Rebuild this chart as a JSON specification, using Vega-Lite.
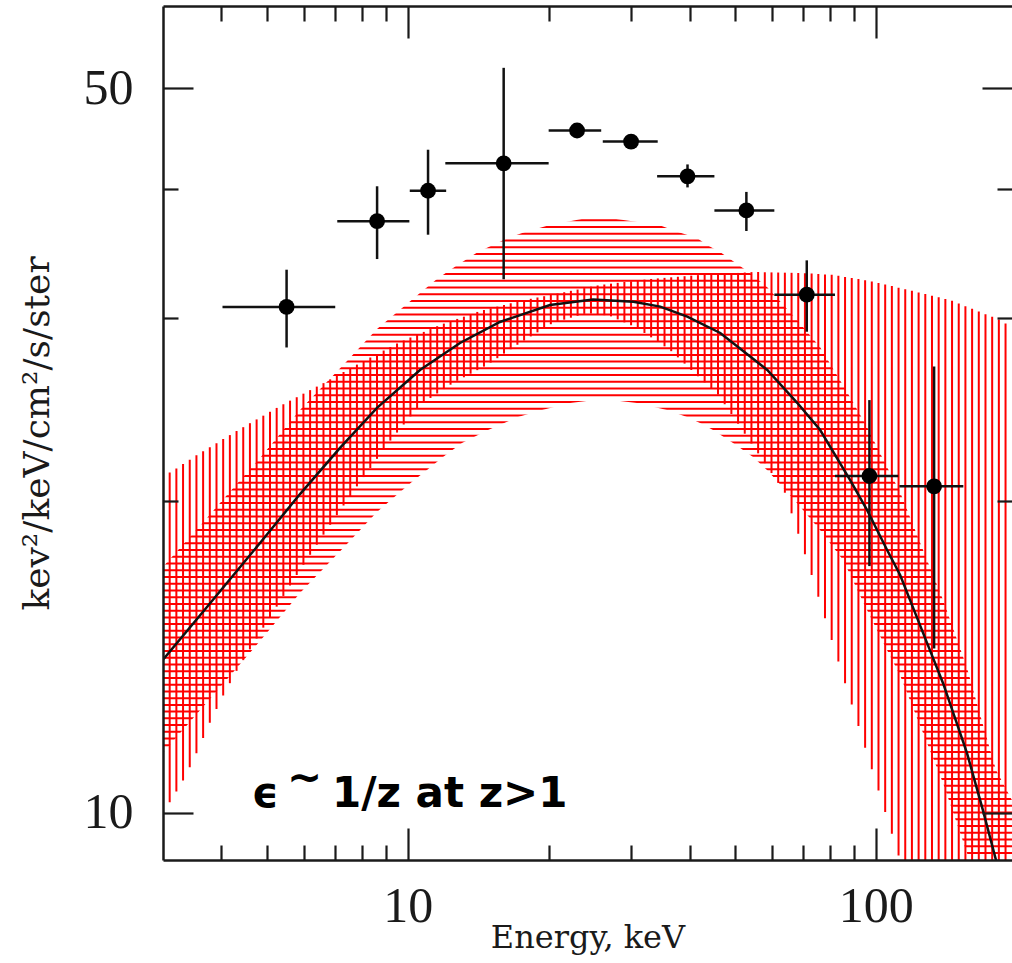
{
  "$schema": "https://vega.github.io/schema/vega-lite/v6.json",
  "width": 849,
  "height": 854,
  "autosize": {"type": "none"},
  "padding": {"left": 163, "top": 6, "right": 0, "bottom": 103},
  "background": "white",
  "view": {"stroke": null},
  "config": {
    "axis": {"grid": false, "domainColor": "#1a1a1a", "domainWidth": 2.5, "tickColor": "#1a1a1a", "tickWidth": 2.2, "labelColor": "#1a1a1a", "titleColor": "#1a1a1a", "labelFont": "Liberation Serif", "labelFlush": false, "labelOverlap": false}
  },
  "datasets": {
    "hl": [
      {"F": 9.1420}, {"F": 9.2797}, {"F": 9.4195}, {"F": 9.5614}, {"F": 9.7054}, {"F": 9.8516}, {"F": 10},
      {"F": 10.1506}, {"F": 10.3036}, {"F": 10.4588}, {"F": 10.6163}, {"F": 10.7762}, {"F": 10.9386}, {"F": 11.1033}, {"F": 11.2706},
      {"F": 11.4404}, {"F": 11.6127}, {"F": 11.7877}, {"F": 11.9652}, {"F": 12.1455}, {"F": 12.3284}, {"F": 12.5141}, {"F": 12.7026},
      {"F": 12.8940}, {"F": 13.0882}, {"F": 13.2854}, {"F": 13.4855}, {"F": 13.6887}, {"F": 13.8950}, {"F": 14.1043}, {"F": 14.3167},
      {"F": 14.5324}, {"F": 14.7513}, {"F": 14.9735}, {"F": 15.1991}, {"F": 15.4280}, {"F": 15.6604}, {"F": 15.8964}, {"F": 16.1358},
      {"F": 16.3789}, {"F": 16.6256}, {"F": 16.8761}, {"F": 17.1303}, {"F": 17.3883}, {"F": 17.6503}, {"F": 17.9161}, {"F": 18.1860},
      {"F": 18.4600}, {"F": 18.7380}, {"F": 19.0203}, {"F": 19.3070}, {"F": 19.5978}, {"F": 19.8930}, {"F": 20.1927}, {"F": 20.4969},
      {"F": 20.8057}, {"F": 21.1191}, {"F": 21.4372}, {"F": 21.7601}, {"F": 22.0879}, {"F": 22.4207}, {"F": 22.7584}, {"F": 23.1012},
      {"F": 23.4492}, {"F": 23.8025}, {"F": 24.1610}, {"F": 24.5250}, {"F": 24.8944}, {"F": 25.2694}, {"F": 25.6501}, {"F": 26.0365},
      {"F": 26.4287}, {"F": 26.8270}, {"F": 27.2311}, {"F": 27.6413}, {"F": 28.0577}, {"F": 28.4803}, {"F": 28.9094}, {"F": 29.3449},
      {"F": 29.7869}, {"F": 30.2356}, {"F": 30.6911}, {"F": 31.1534}, {"F": 31.6227}, {"F": 32.0990}, {"F": 32.5826}, {"F": 33.0734},
      {"F": 33.5716}, {"F": 34.0773}, {"F": 34.5907}, {"F": 35.1117}, {"F": 35.6406}, {"F": 36.1775}, {"F": 36.7225}, {"F": 37.2759}
    ],
    "maskUp": [
      {"E": 3.0, "U": 17.26}, {"E": 3.725, "U": 19.24}, {"E": 4.110, "U": 20.25}, {"E": 4.835, "U": 21.98}, {"E": 5.886, "U": 24.46},
      {"E": 7.417, "U": 27.27}, {"E": 8.596, "U": 29.28}, {"E": 10.621, "U": 31.72}, {"E": 11.548, "U": 32.72}, {"E": 12.679, "U": 33.68},
      {"E": 14.128, "U": 34.74}, {"E": 15.210, "U": 35.29}, {"E": 16.375, "U": 35.84}, {"E": 17.804, "U": 36.32}, {"E": 20.133, "U": 36.89},
      {"E": 24.153, "U": 37.47}, {"E": 25.496, "U": 37.72}, {"E": 26.913, "U": 37.47}, {"E": 34.418, "U": 36.89}, {"E": 37.790, "U": 36.32},
      {"E": 41.493, "U": 35.84}, {"E": 43.585, "U": 35.29}, {"E": 46.464, "U": 34.74}, {"E": 51.267, "U": 33.68}, {"E": 53.853, "U": 33.16},
      {"E": 58.550, "U": 32.14}, {"E": 67.861, "U": 29.87}, {"E": 75.990, "U": 28.13}, {"E": 88.074, "U": 25.17}, {"E": 95.757, "U": 23.55},
      {"E": 105.657, "U": 21.55}, {"E": 112.635, "U": 20.38}, {"E": 128.634, "U": 17.53}, {"E": 139.168, "U": 16.04}, {"E": 156.607, "U": 13.79},
      {"E": 169.432, "U": 12.15}, {"E": 180.621, "U": 10.99}, {"E": 195.4, "U": 10.28}
    ],
    "maskLow": [
      {"E": 3.0, "L": 11.42}, {"E": 3.725, "L": 12.78}, {"E": 4.110, "L": 13.45}, {"E": 4.835, "L": 14.64}, {"E": 5.886, "L": 16.29},
      {"E": 7.417, "L": 18.16}, {"E": 8.596, "L": 19.50}, {"E": 10.262, "L": 20.89}, {"E": 10.994, "L": 21.40}, {"E": 11.894, "L": 22.03},
      {"E": 13.059, "L": 22.73}, {"E": 14.841, "L": 23.39}, {"E": 17.201, "L": 24.08}, {"E": 19.357, "L": 24.46}, {"E": 22.215, "L": 24.84},
      {"E": 26.131, "L": 25.06}, {"E": 30.888, "L": 24.84}, {"E": 35.800, "L": 24.46}, {"E": 39.501, "L": 24.08}, {"E": 42.110, "L": 23.76},
      {"E": 44.891, "L": 23.39}, {"E": 49.532, "L": 22.73}, {"E": 54.654, "L": 22.03}, {"E": 58.550, "L": 21.40}, {"E": 67.861, "L": 19.89},
      {"E": 75.990, "L": 18.73}, {"E": 85.093, "L": 17.53}, {"E": 95.757, "L": 15.68}, {"E": 105.657, "L": 14.35}, {"E": 112.635, "L": 13.57},
      {"E": 128.634, "L": 11.67}, {"E": 139.168, "L": 10.68}, {"E": 156.607, "L": 9.14}, {"E": 162.893, "L": 8.61}, {"E": 195.4, "L": 6.59}
    ],
    "vl": [
      {"E": 3.1003, "lo": 10.23, "hi": 21.28}, {"E": 3.2040, "lo": 10.48, "hi": 21.48}, {"E": 3.3111, "lo": 10.74, "hi": 21.69},
      {"E": 3.4219, "lo": 11.06, "hi": 21.90}, {"E": 3.5363, "lo": 11.41, "hi": 22.12}, {"E": 3.6546, "lo": 11.80, "hi": 22.32},
      {"E": 3.7768, "lo": 12.21, "hi": 22.52}, {"E": 3.9031, "lo": 12.59, "hi": 22.72}, {"E": 4.0336, "lo": 12.97, "hi": 22.93},
      {"E": 4.1685, "lo": 13.33, "hi": 23.13}, {"E": 4.3079, "lo": 13.70, "hi": 23.34}, {"E": 4.4519, "lo": 14.03, "hi": 23.54},
      {"E": 4.6008, "lo": 14.37, "hi": 23.75}, {"E": 4.7547, "lo": 14.72, "hi": 23.95}, {"E": 4.9137, "lo": 15.08, "hi": 24.15},
      {"E": 5.0780, "lo": 15.44, "hi": 24.36}, {"E": 5.2478, "lo": 15.80, "hi": 24.57}, {"E": 5.4233, "lo": 16.18, "hi": 24.77},
      {"E": 5.6047, "lo": 16.56, "hi": 24.97}, {"E": 5.7921, "lo": 16.95, "hi": 25.16}, {"E": 5.9858, "lo": 17.34, "hi": 25.36},
      {"E": 6.1860, "lo": 17.73, "hi": 25.56}, {"E": 6.3928, "lo": 18.13, "hi": 25.76}, {"E": 6.6066, "lo": 18.54, "hi": 25.96},
      {"E": 6.8275, "lo": 18.95, "hi": 26.18}, {"E": 7.0559, "lo": 19.36, "hi": 26.39}, {"E": 7.2918, "lo": 19.78, "hi": 26.61},
      {"E": 7.5357, "lo": 20.20, "hi": 26.83}, {"E": 7.7877, "lo": 20.64, "hi": 27.05}, {"E": 8.0481, "lo": 21.07, "hi": 27.26},
      {"E": 8.3172, "lo": 21.50, "hi": 27.48}, {"E": 8.5954, "lo": 21.94, "hi": 27.69}, {"E": 8.8828, "lo": 22.39, "hi": 27.91},
      {"E": 9.1798, "lo": 22.85, "hi": 28.13}, {"E": 9.4868, "lo": 23.26, "hi": 28.35}, {"E": 9.8041, "lo": 23.68, "hi": 28.54},
      {"E": 10.132, "lo": 24.11, "hi": 28.73}, {"E": 10.471, "lo": 24.54, "hi": 28.91}, {"E": 10.821, "lo": 24.87, "hi": 29.09},
      {"E": 11.183, "lo": 25.12, "hi": 29.27}, {"E": 11.557, "lo": 25.37, "hi": 29.46}, {"E": 11.943, "lo": 25.62, "hi": 29.63},
      {"E": 12.343, "lo": 25.87, "hi": 29.78}, {"E": 12.755, "lo": 26.10, "hi": 29.94}, {"E": 13.182, "lo": 26.30, "hi": 30.09},
      {"E": 13.623, "lo": 26.51, "hi": 30.25}, {"E": 14.078, "lo": 26.72, "hi": 30.41}, {"E": 14.549, "lo": 26.93, "hi": 30.54},
      {"E": 15.036, "lo": 27.17, "hi": 30.65}, {"E": 15.538, "lo": 27.44, "hi": 30.77}, {"E": 16.058, "lo": 27.72, "hi": 30.88},
      {"E": 16.595, "lo": 27.99, "hi": 31.00}, {"E": 17.150, "lo": 28.27, "hi": 31.11}, {"E": 17.724, "lo": 28.54, "hi": 31.21},
      {"E": 18.316, "lo": 28.80, "hi": 31.31}, {"E": 18.929, "lo": 29.06, "hi": 31.40}, {"E": 19.562, "lo": 29.32, "hi": 31.49},
      {"E": 20.216, "lo": 29.59, "hi": 31.59}, {"E": 20.892, "lo": 29.76, "hi": 31.68}, {"E": 21.591, "lo": 29.89, "hi": 31.77},
      {"E": 22.313, "lo": 30.02, "hi": 31.87}, {"E": 23.059, "lo": 30.15, "hi": 31.96}, {"E": 23.830, "lo": 30.28, "hi": 32.06},
      {"E": 24.627, "lo": 30.30, "hi": 32.16}, {"E": 25.450, "lo": 30.24, "hi": 32.25}, {"E": 26.301, "lo": 30.19, "hi": 32.32},
      {"E": 27.181, "lo": 30.11, "hi": 32.38}, {"E": 28.090, "lo": 29.91, "hi": 32.44}, {"E": 29.029, "lo": 29.71, "hi": 32.50},
      {"E": 30.000, "lo": 29.52, "hi": 32.55}, {"E": 31.003, "lo": 29.31, "hi": 32.61}, {"E": 32.040, "lo": 29.02, "hi": 32.67},
      {"E": 33.111, "lo": 28.74, "hi": 32.72}, {"E": 34.219, "lo": 28.45, "hi": 32.76}, {"E": 35.363, "lo": 28.17, "hi": 32.80},
      {"E": 36.546, "lo": 27.87, "hi": 32.84}, {"E": 37.768, "lo": 27.49, "hi": 32.88}, {"E": 39.031, "lo": 27.11, "hi": 32.92},
      {"E": 40.336, "lo": 26.73, "hi": 32.96}, {"E": 41.685, "lo": 26.36, "hi": 33.00}, {"E": 43.079, "lo": 26.00, "hi": 33.03},
      {"E": 44.519, "lo": 25.67, "hi": 33.06}, {"E": 46.008, "lo": 25.31, "hi": 33.08}, {"E": 47.547, "lo": 24.77, "hi": 33.11},
      {"E": 49.137, "lo": 24.24, "hi": 33.14}, {"E": 50.780, "lo": 23.72, "hi": 33.16}, {"E": 52.478, "lo": 23.20, "hi": 33.19},
      {"E": 54.233, "lo": 22.70, "hi": 33.22}, {"E": 56.047, "lo": 22.21, "hi": 33.23}, {"E": 57.921, "lo": 21.73, "hi": 33.21},
      {"E": 59.858, "lo": 21.26, "hi": 33.20}, {"E": 61.860, "lo": 20.80, "hi": 33.19}, {"E": 63.928, "lo": 20.35, "hi": 33.18},
      {"E": 66.066, "lo": 19.44, "hi": 33.17}, {"E": 68.275, "lo": 18.58, "hi": 33.16}, {"E": 70.559, "lo": 17.75, "hi": 33.14},
      {"E": 72.918, "lo": 16.95, "hi": 33.11}, {"E": 75.357, "lo": 16.15, "hi": 33.08}, {"E": 77.877, "lo": 15.40, "hi": 33.05},
      {"E": 80.481, "lo": 14.67, "hi": 33.02}, {"E": 83.172, "lo": 13.99, "hi": 32.95}, {"E": 85.954, "lo": 13.33, "hi": 32.87},
      {"E": 88.828, "lo": 12.71, "hi": 32.79}, {"E": 91.798, "lo": 12.12, "hi": 32.71}, {"E": 94.868, "lo": 11.55, "hi": 32.63},
      {"E": 98.041, "lo": 11.01, "hi": 32.54}, {"E": 101.32, "lo": 10.50, "hi": 32.43}, {"E": 104.71, "lo": 10.01, "hi": 32.32},
      {"E": 108.21, "lo": 9.54, "hi": 32.21}, {"E": 111.83, "lo": 9.09, "hi": 32.09}, {"E": 115.57, "lo": 9.0, "hi": 31.98},
      {"E": 119.43, "lo": 9.0, "hi": 31.87}, {"E": 123.43, "lo": 9.0, "hi": 31.75}, {"E": 127.55, "lo": 9.0, "hi": 31.64},
      {"E": 131.82, "lo": 9.0, "hi": 31.53}, {"E": 136.23, "lo": 9.0, "hi": 31.42}, {"E": 140.78, "lo": 9.0, "hi": 31.30},
      {"E": 145.49, "lo": 9.0, "hi": 31.17}, {"E": 150.36, "lo": 9.0, "hi": 30.99}, {"E": 155.38, "lo": 9.0, "hi": 30.80},
      {"E": 160.58, "lo": 9.0, "hi": 30.62}, {"E": 165.95, "lo": 9.0, "hi": 30.44}, {"E": 171.50, "lo": 9.0, "hi": 30.26},
      {"E": 177.24, "lo": 9.0, "hi": 30.08}, {"E": 183.16, "lo": 9.0, "hi": 29.90}, {"E": 189.29, "lo": 9.0, "hi": 29.63}
    ],
    "curve": [
      {"E": 3.0, "F": 14.04}, {"E": 3.725, "F": 15.79}, {"E": 4.835, "F": 18.20}, {"E": 5.886, "F": 20.29}, {"E": 7.166, "F": 22.48},
      {"E": 8.596, "F": 24.57}, {"E": 10.621, "F": 26.73}, {"E": 12.931, "F": 28.38}, {"E": 15.74, "F": 29.74}, {"E": 20.133, "F": 30.88},
      {"E": 24.88, "F": 31.26}, {"E": 30.33, "F": 31.11}, {"E": 34.63, "F": 30.77}, {"E": 39.55, "F": 30.09}, {"E": 46.52, "F": 29.02},
      {"E": 58.62, "F": 26.73}, {"E": 67.92, "F": 24.85}, {"E": 76.05, "F": 23.39}, {"E": 88.14, "F": 20.93}, {"E": 95.8, "F": 19.58},
      {"E": 105.7, "F": 17.92}, {"E": 112.7, "F": 16.95}, {"E": 128.7, "F": 14.57}, {"E": 139.2, "F": 13.33}, {"E": 156.6, "F": 11.41},
      {"E": 169.4, "F": 10.05}, {"E": 180.7, "F": 8.99}
    ],
    "pts": [
      {"E": 5.51, "F": 30.75, "Elo": 4.02, "Ehi": 7.0, "Flo": 28.1, "Fhi": 33.4},
      {"E": 8.6, "F": 37.2, "Elo": 7.07, "Ehi": 10.08, "Flo": 34.2, "Fhi": 40.2},
      {"E": 11.05, "F": 39.8, "Elo": 10.1, "Ehi": 12.08, "Flo": 36.1, "Fhi": 43.6},
      {"E": 16.03, "F": 42.3, "Elo": 12.03, "Ehi": 20.0, "Flo": 32.7, "Fhi": 52.3},
      {"E": 23.0, "F": 45.5, "Elo": 20.0, "Ehi": 25.9, "Flo": 45.1, "Fhi": 45.9},
      {"E": 30.0, "F": 44.4, "Elo": 26.1, "Ehi": 34.2, "Flo": 44.0, "Fhi": 44.8},
      {"E": 39.6, "F": 41.1, "Elo": 34.1, "Ehi": 45.2, "Flo": 40.1, "Fhi": 42.2},
      {"E": 52.9, "F": 38.1, "Elo": 45.2, "Ehi": 60.7, "Flo": 36.4, "Fhi": 39.7},
      {"E": 71.2, "F": 31.6, "Elo": 60.7, "Ehi": 81.8, "Flo": 29.1, "Fhi": 34.1},
      {"E": 96.9, "F": 21.12, "Elo": 81.8, "Ehi": 111.7, "Flo": 17.29, "Fhi": 25.0},
      {"E": 133.2, "F": 20.64, "Elo": 112.3, "Ehi": 153.8, "Flo": 14.4, "Fhi": 26.93}
    ],
    "txt": [
      {"t": "ϵ", "E": 4.640, "F": 10.13},
      {"t": "~", "E": 5.521, "F": 10.47},
      {"t": "1/z at z>1", "E": 6.889, "F": 10.13}
    ]
  },
  "layer": [
    {
      "data": {"name": "hl"},
      "mark": {"type": "rule", "color": "#ff0000", "strokeWidth": 2},
      "encoding": {
        "y": {"field": "F", "type": "quantitative", "scale": {"type": "log", "domain": [9, 60], "nice": false}, "axis": null}
      }
    },
    {
      "data": {"name": "maskUp"},
      "mark": {"type": "area", "color": "#ffffff", "opacity": 1, "clip": true, "interpolate": "linear"},
      "encoding": {
        "x": {"field": "E", "type": "quantitative", "scale": {"type": "log", "domain": [3, 195.4], "nice": false},
          "axis": {"zindex": 1, "orient": "bottom", "values": [10, 100], "tickSize": -32, "domain": true, "labelFontSize": 50, "labelPadding": 53.5, "title": "Energy, keV", "titleFont": "DejaVu Serif", "titleFontSize": 32, "titleFontWeight": "normal", "titleY": 87, "titleBaseline": "alphabetic"}},
        "y": {"field": "U", "type": "quantitative", "scale": {"type": "log", "domain": [9, 60], "nice": false},
          "axis": {"zindex": 1, "orient": "left", "values": [10, 50], "tickSize": -30, "domain": true, "labelFontSize": 50, "labelPadding": 60, "labelBaseline": "middle", "title": "kev²/keV/cm²/s/ster", "titleFont": "DejaVu Serif", "titleFontSize": 36, "titleFontWeight": "normal", "titleAngle": 270, "titleX": -115, "titleY": 427, "titleAlign": "center", "titleBaseline": "alphabetic"}},
        "y2": {"datum": 61}
      }
    },
    {
      "data": {"name": "maskLow"},
      "mark": {"type": "area", "color": "#ffffff", "opacity": 1, "clip": true, "interpolate": "linear"},
      "encoding": {
        "x": {"field": "E", "type": "quantitative", "scale": {"type": "log", "domain": [3, 195.4], "nice": false},
          "axis": {"zindex": 1, "orient": "bottom", "values": [4, 5, 6, 7, 8, 9, 20, 30, 40, 50, 60, 70, 80, 90], "tickSize": -15, "domain": false, "labels": false, "title": null}},
        "y": {"field": "L", "type": "quantitative", "scale": {"type": "log", "domain": [9, 60], "nice": false},
          "axis": {"zindex": 1, "orient": "left", "values": [20, 30, 40], "tickSize": -15, "domain": false, "labels": false, "title": null}},
        "y2": {"datum": 5}
      }
    },
    {
      "data": {"name": "vl"},
      "mark": {"type": "rule", "color": "#ff0000", "strokeWidth": 2, "clip": true},
      "encoding": {
        "x": {"field": "E", "type": "quantitative", "scale": {"type": "log", "domain": [3, 195.4], "nice": false},
          "axis": {"zindex": 1, "orient": "top", "values": [10, 100], "tickSize": -32, "domain": true, "labels": false, "title": null}},
        "y": {"field": "lo", "type": "quantitative", "scale": {"type": "log", "domain": [9, 60], "nice": false},
          "axis": {"zindex": 1, "orient": "right", "values": [10, 50], "tickSize": -30, "domain": false, "labels": false, "title": null}},
        "y2": {"field": "hi"}
      }
    },
    {
      "data": {"name": "curve"},
      "mark": {"type": "line", "color": "#111111", "strokeWidth": 2.5, "clip": true},
      "encoding": {
        "x": {"field": "E", "type": "quantitative", "scale": {"type": "log", "domain": [3, 195.4], "nice": false},
          "axis": {"zindex": 1, "orient": "top", "values": [4, 5, 6, 7, 8, 9, 20, 30, 40, 50, 60, 70, 80, 90], "tickSize": -15, "domain": false, "labels": false, "title": null}},
        "y": {"field": "F", "type": "quantitative", "scale": {"type": "log", "domain": [9, 60], "nice": false},
          "axis": {"zindex": 1, "orient": "right", "values": [20, 30, 40], "tickSize": -15, "domain": false, "labels": false, "title": null}}
      }
    },
    {
      "data": {"name": "pts"},
      "mark": {"type": "rule", "color": "#111111", "strokeWidth": 2.5, "clip": true},
      "encoding": {
        "x": {"field": "Elo", "type": "quantitative", "scale": {"type": "log", "domain": [3, 195.4], "nice": false}, "axis": null},
        "x2": {"field": "Ehi"},
        "y": {"field": "F", "type": "quantitative", "scale": {"type": "log", "domain": [9, 60], "nice": false}, "axis": null}
      }
    },
    {
      "data": {"name": "pts"},
      "mark": {"type": "rule", "color": "#111111", "strokeWidth": 2.5, "clip": true},
      "encoding": {
        "x": {"field": "E", "type": "quantitative", "scale": {"type": "log", "domain": [3, 195.4], "nice": false}, "axis": null},
        "y": {"field": "Flo", "type": "quantitative", "scale": {"type": "log", "domain": [9, 60], "nice": false}, "axis": null},
        "y2": {"field": "Fhi"}
      }
    },
    {
      "data": {"name": "pts"},
      "mark": {"type": "circle", "color": "#000000", "opacity": 1, "size": 250},
      "encoding": {
        "x": {"field": "E", "type": "quantitative", "scale": {"type": "log", "domain": [3, 195.4], "nice": false}, "axis": null},
        "y": {"field": "F", "type": "quantitative", "scale": {"type": "log", "domain": [9, 60], "nice": false}, "axis": null}
      }
    },
    {
      "data": {"name": "txt"},
      "mark": {"type": "text", "align": "left", "baseline": "alphabetic", "font": "DejaVu Sans", "fontSize": 42, "fontWeight": "bold", "color": "#000000"},
      "encoding": {
        "x": {"field": "E", "type": "quantitative", "scale": {"type": "log", "domain": [3, 195.4], "nice": false}, "axis": null},
        "y": {"field": "F", "type": "quantitative", "scale": {"type": "log", "domain": [9, 60], "nice": false}, "axis": null},
        "text": {"field": "t"}
      }
    }
  ],
  "resolve": {"axis": {"x": "independent", "y": "independent"}}
}
